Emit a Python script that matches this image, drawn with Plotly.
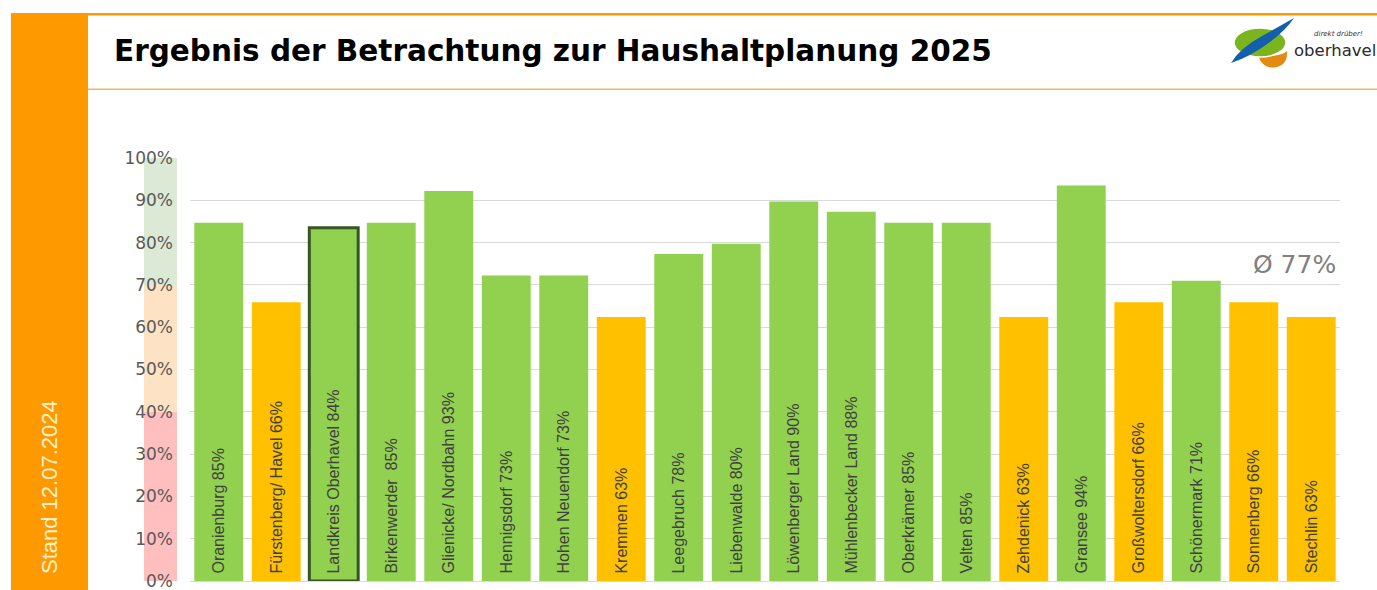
import plotly.graph_objects as go

W, H = 1377, 590

# ---------------- data ----------------
names = ["Oranienburg", "Fürstenberg/ Havel", "Landkreis Oberhavel", "Birkenwerder\u00a0",
         "Glienicke/ Nordbahn", "Hennigsdorf", "Hohen Neuendorf", "Kremmen", "Leegebruch",
         "Liebenwalde", "Löwenberger Land", "Mühlenbecker Land", "Oberkrämer", "Velten",
         "Zehdenick", "Gransee", "Großwoltersdorf", "Schönermark", "Sonnenberg", "Stechlin"]
label_pct = [85, 66, 84, 85, 93, 73, 73, 63, 78, 80, 90, 88, 85, 85, 63, 94, 66, 71, 66, 63]
values = [84.7, 65.9, 83.5, 84.7, 92.2, 72.2, 72.2, 62.4, 77.3, 79.7, 89.7, 87.3, 84.7, 84.7,
          62.4, 93.5, 65.9, 71.0, 65.9, 62.4]
status = ["g", "o", "g", "g", "g", "g", "g", "o", "g", "g", "g", "g", "g", "g",
          "o", "g", "o", "g", "o", "o"]
y_ticks = [0, 10, 20, 30, 40, 50, 60, 70, 80, 90, 100]
bands = [(0, 40, "#FFBFBF"), (40, 70, "#FDE3C3"), (70, 100, "#DCE9D4")]
average_text = "Ø 77%"
title_text = "Ergebnis der Betrachtung zur Haushaltplanung 2025"
stand_text = "Stand 12.07.2024"
highlight = "Landkreis Oberhavel"

GREEN = "#92D050"
ORANGE = "#FFC000"

def px(x):
    return x / W

def py(y):
    return 1 - y / H

labels = [f"\u00a0{n} {p}%" for n, p in zip(names, label_pct)]
colors = [GREEN if s == "g" else ORANGE for s in status]
line_w = [3 if n == highlight else 0 for n in names]
line_c = ["#375623" if n == highlight else "rgba(0,0,0,0)" for n in names]

fig = go.Figure()
fig.add_trace(go.Bar(
    x=names, y=values, text=labels,
    marker=dict(color=colors, line=dict(color=line_c, width=line_w)),
    textposition="inside", insidetextanchor="start", textangle=-90,
    insidetextfont=dict(family="Liberation Sans, Arial, sans-serif", size=16, color="#404040"),
    cliponaxis=False, hoverinfo="skip",
))

shapes = []
for y0, y1, c in bands:
    shapes.append(dict(type="rect", xref="paper", yref="y", x0=px(144), x1=px(177),
                       y0=y0, y1=y1, fillcolor=c, line=dict(width=0), layer="below"))
shapes.append(dict(type="rect", xref="paper", yref="paper", x0=px(11), x1=px(88),
                   y0=py(590), y1=py(13), fillcolor="#FF9900", line=dict(width=0)))
shapes.append(dict(type="rect", xref="paper", yref="paper", x0=px(11), x1=px(1377),
                   y0=py(15.5), y1=py(13), fillcolor="#FF9900", line=dict(width=0)))
shapes.append(dict(type="rect", xref="paper", yref="paper", x0=px(88), x1=px(1377),
                   y0=py(90), y1=py(88.5), fillcolor="#F9B55C", line=dict(width=0)))

def path(pts_cmds):
    out = []
    for tok in pts_cmds:
        if isinstance(tok, str):
            out.append(tok)
        else:
            out.append(f"{px(tok[0]):.5f},{py(tok[1]):.5f}")
    return " ".join(out)

orange_p = path(["M", (1258, 54), "Q", (1261, 68), (1274, 67.5), "Q", (1288, 66), (1287, 51),
                 "Q", (1280, 58), (1258, 54), "Z"])
shapes.append(dict(type="path", xref="paper", yref="paper", path=orange_p,
                   fillcolor="#E38A10", line=dict(width=0)))
shapes.append(dict(type="circle", xref="paper", yref="paper", x0=px(1234), x1=px(1286),
                   y0=py(57), y1=py(28), fillcolor="#7AB51D", line=dict(color="white", width=1.5)))
blue_p = path(["M", (1231, 63), "Q", (1240, 48), (1262, 36), "Q", (1280, 26), (1294, 18),
               "Q", (1286, 30), (1270, 42), "Q", (1250, 57), (1231, 63), "Z"])
shapes.append(dict(type="path", xref="paper", yref="paper", path=blue_p,
                   fillcolor="#135FAE", line=dict(width=0)))

annotations = [
    dict(text=f"<b>{title_text}</b>", xref="paper", yref="paper", x=px(112), y=py(51),
         xanchor="left", yanchor="middle", showarrow=False,
         font=dict(family="DejaVu Sans, sans-serif", size=29.5, color="#000000")),
    dict(text=stand_text, xref="paper", yref="paper", x=px(49), y=py(487),
         xanchor="center", yanchor="middle", textangle=-90, showarrow=False,
         font=dict(family="Liberation Sans, Arial, sans-serif", size=22, color="#FFF2CC")),
    dict(text=average_text, xref="paper", yref="paper", x=px(1338), y=py(264),
         xanchor="right", yanchor="middle", showarrow=False,
         font=dict(family="DejaVu Sans, sans-serif", size=25, color="#808080")),
    dict(text="oberhavel", xref="paper", yref="paper", x=px(1292), y=py(50),
         xanchor="left", yanchor="middle", showarrow=False,
         font=dict(family="DejaVu Sans, sans-serif", size=16.5, color="#2B2B2B")),
    dict(text="<i>direkt drüber!</i>", xref="paper", yref="paper", x=px(1312), y=py(34),
         xanchor="left", yanchor="middle", showarrow=False,
         font=dict(family="DejaVu Sans, sans-serif", size=7, color="#333333")),
]

fig.update_layout(
    width=W, height=H, autosize=False, margin=dict(l=0, r=0, t=0, b=0, autoexpand=False),
    paper_bgcolor="white", plot_bgcolor="white",
    showlegend=False, bargap=0.15,
    shapes=shapes, annotations=annotations,
    xaxis=dict(domain=[px(190), px(1340)], showticklabels=False, showgrid=False,
               zeroline=False, showline=False, ticks=""),
    yaxis=dict(domain=[py(581), py(158)], range=[0, 100], tickvals=y_ticks,
               ticktext=[f"{v}%" for v in y_ticks], showgrid=True, gridcolor="#D9D9D9",
               gridwidth=1, zeroline=True, zerolinecolor="#D9D9D9", zerolinewidth=1,
               showline=False, ticks="", ticklabelstandoff=16, ticklabeloverflow="allow",
               tickfont=dict(family="DejaVu Sans, sans-serif", size=17, color="#595959")),
)

post = ("document.documentElement.style.margin='0';"
        "document.body.style.margin='0';"
        "document.body.style.overflow='hidden';"
        "var gd=document.getElementById('{plot_id}');"
        "Plotly.relayout(gd,{width:1377,height:590});")

fig.write_html("out.html", config={"displayModeBar": False, "responsive": False},
               post_script=post)
